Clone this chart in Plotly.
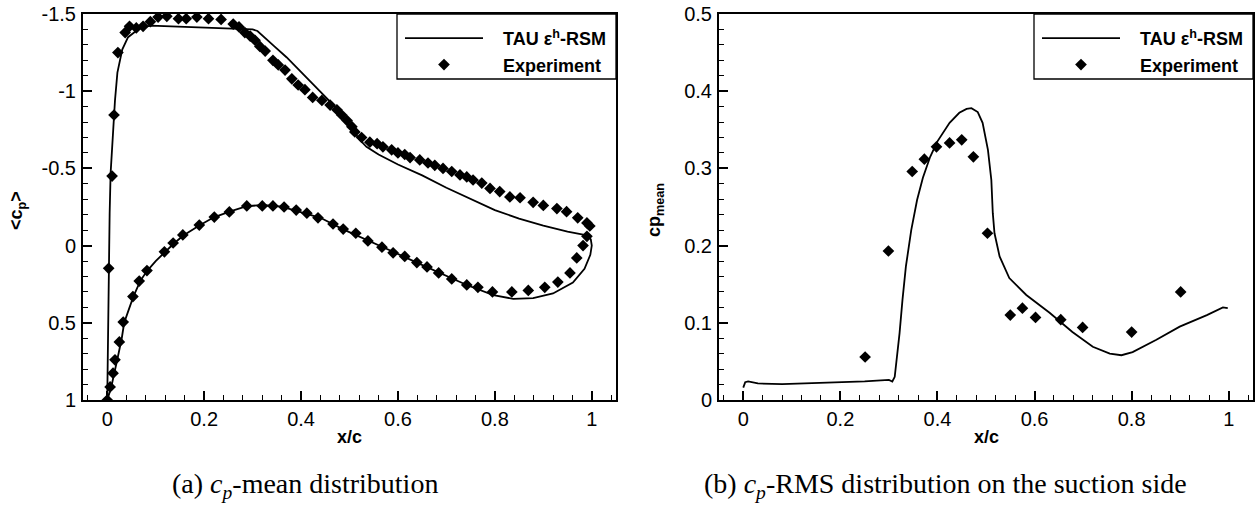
import plotly.graph_objects as go

# ---------------- data: left panel (cp-mean) ----------------
cfd_upper_x = [0.993, 0.95, 0.90, 0.85, 0.80, 0.75, 0.70, 0.65, 0.60, 0.56, 0.535, 0.52, 0.50, 0.47,
               0.435, 0.40, 0.37, 0.345, 0.325, 0.31, 0.30, 0.26, 0.20, 0.15, 0.09, 0.068, 0.043,
               0.031, 0.021, 0.016, 0.012, 0.007, 0.005, 0.003, 0.0]
cfd_upper_y = [-0.065, -0.09, -0.13, -0.175, -0.23, -0.30, -0.375, -0.455, -0.525, -0.59, -0.64, -0.69,
               -0.78, -0.90, -1.01, -1.12, -1.22, -1.29, -1.35, -1.39, -1.40, -1.405, -1.41, -1.415,
               -1.425, -1.41, -1.35, -1.27, -1.12, -0.94, -0.73, -0.47, -0.21, 0.20, 1.0]
cfd_lower_x = [0.008, 0.015, 0.022, 0.03, 0.035, 0.045, 0.054, 0.068, 0.082, 0.10, 0.12, 0.137, 0.157,
               0.19, 0.22, 0.254, 0.288, 0.32, 0.36, 0.40, 0.44, 0.487, 0.538, 0.59, 0.639, 0.687,
               0.742, 0.797, 0.838, 0.879, 0.92, 0.961, 0.985, 0.997, 1.0, 0.998, 0.993]
cfd_lower_y = [0.92, 0.83, 0.72, 0.60, 0.50, 0.41, 0.33, 0.23, 0.165, 0.10, 0.04, -0.012, -0.065,
               -0.13, -0.183, -0.222, -0.255, -0.263, -0.252, -0.215, -0.18, -0.105, -0.035, 0.04,
               0.11, 0.18, 0.255, 0.32, 0.345, 0.34, 0.31, 0.24, 0.15, 0.06, 0.0, -0.04, -0.06]

exp_upper_x = [0.003, 0.010, 0.014, 0.022, 0.037, 0.046, 0.06, 0.074, 0.089, 0.105, 0.123, 0.147, 0.163,
               0.185, 0.209, 0.235, 0.26, 0.272, 0.284, 0.295, 0.305, 0.315, 0.326, 0.342, 0.353,
               0.367, 0.381, 0.394, 0.408, 0.424, 0.443, 0.46, 0.474, 0.484, 0.495, 0.505, 0.511,
               0.525, 0.542, 0.557, 0.569, 0.587, 0.600, 0.614, 0.625, 0.645, 0.662, 0.676, 0.693,
               0.711, 0.728, 0.742, 0.755, 0.773, 0.79, 0.81, 0.831, 0.852, 0.879, 0.9, 0.928,
               0.948, 0.971, 0.99, 0.996]
exp_upper_y = [0.147, -0.45, -0.846, -1.25, -1.38, -1.42, -1.41, -1.42, -1.45, -1.48, -1.485, -1.47,
               -1.47, -1.48, -1.47, -1.465, -1.435, -1.416, -1.38, -1.357, -1.33, -1.29, -1.26, -1.20,
               -1.17, -1.137, -1.08, -1.04, -1.01, -0.96, -0.94, -0.91, -0.88, -0.846, -0.81, -0.77,
               -0.736, -0.70, -0.67, -0.66, -0.64, -0.62, -0.60, -0.59, -0.57, -0.555, -0.535, -0.52,
               -0.50, -0.48, -0.458, -0.445, -0.425, -0.405, -0.37, -0.35, -0.315, -0.31, -0.28, -0.26,
               -0.24, -0.22, -0.18, -0.147, -0.127]
exp_lower_x = [0.0, 0.006, 0.012, 0.016, 0.025, 0.033, 0.053, 0.066, 0.082, 0.118, 0.136, 0.156, 0.190,
               0.221, 0.252, 0.288, 0.32, 0.342, 0.365, 0.39, 0.412, 0.435, 0.466, 0.487, 0.513,
               0.538, 0.567, 0.59, 0.614, 0.639, 0.66, 0.684, 0.711, 0.742, 0.765, 0.795, 0.835,
               0.869, 0.903, 0.93, 0.955, 0.969, 0.982, 0.99]
exp_lower_y = [1.0, 0.915, 0.826, 0.74, 0.624, 0.495, 0.33, 0.23, 0.162, 0.04, -0.017, -0.069, -0.133,
               -0.185, -0.218, -0.257, -0.257, -0.257, -0.25, -0.23, -0.21, -0.18, -0.14, -0.107,
               -0.08, -0.03, 0.01, 0.047, 0.07, 0.11, 0.138, 0.177, 0.216, 0.255, 0.27, 0.30, 0.30,
               0.29, 0.27, 0.236, 0.177, 0.08, 0.0, -0.06]

# ---------------- data: right panel (cp-RMS, suction side) ----------------
rms_cfd_x = [0.0, 0.004, 0.01, 0.03, 0.08, 0.18, 0.25, 0.30, 0.307, 0.312, 0.316, 0.322, 0.328, 0.335,
             0.346, 0.358, 0.37, 0.385, 0.40, 0.425, 0.445, 0.46, 0.47, 0.483, 0.493, 0.504, 0.511,
             0.514, 0.5175, 0.528, 0.548, 0.583, 0.631, 0.678, 0.72, 0.755, 0.779, 0.802, 0.851,
             0.899, 0.955, 0.988, 0.998]
rms_cfd_y = [0.016, 0.023, 0.024, 0.0215, 0.0205, 0.022, 0.024, 0.026, 0.024, 0.030, 0.05, 0.087, 0.13,
             0.173, 0.22, 0.259, 0.288, 0.315, 0.335, 0.359, 0.372, 0.377, 0.378, 0.373, 0.359, 0.324,
             0.285, 0.242, 0.216, 0.186, 0.158, 0.136, 0.113, 0.088, 0.069, 0.060, 0.058, 0.062,
             0.078, 0.095, 0.110, 0.120, 0.119]
rms_exp_x = [0.251, 0.299, 0.348, 0.373, 0.398, 0.425, 0.45, 0.474, 0.503, 0.55, 0.575, 0.602, 0.654,
             0.699, 0.80, 0.901]
rms_exp_y = [0.0557, 0.193, 0.296, 0.312, 0.328, 0.333, 0.337, 0.315, 0.216, 0.110, 0.119, 0.107, 0.104,
             0.094, 0.088, 0.140]

# ---------------- tick labels ----------------
x_tickvals = [0, 0.2, 0.4, 0.6, 0.8, 1]
x_ticktext = ["0", "0.2", "0.4", "0.6", "0.8", "1"]
left_y_tickvals = [-1.5, -1, -0.5, 0, 0.5, 1]
left_y_ticktext = ["-1.5", "-1", "-0.5", "0", "0.5", "1"]
right_y_tickvals = [0, 0.1, 0.2, 0.3, 0.4, 0.5]
right_y_ticktext = ["0", "0.1", "0.2", "0.3", "0.4", "0.5"]

PAD = "\u00a0\u00a0\u00a0"
cfd_name = PAD + "<b>TAU ε<sup>h</sup>-RSM</b>"
exp_name = PAD + "<b>Experiment</b>"

W, H = 1258, 508
SANS = "Liberation Sans"
SERIF = "Liberation Serif"

fig = go.Figure()
line_style = dict(color="black", width=1.8)
marker_style = dict(symbol="diamond", size=9, color="black")

fig.add_trace(go.Scatter(x=cfd_upper_x + cfd_lower_x, y=cfd_upper_y + cfd_lower_y, mode="lines",
                         line=line_style, name=cfd_name, xaxis="x", yaxis="y", legend="legend"))
fig.add_trace(go.Scatter(x=exp_upper_x + exp_lower_x, y=exp_upper_y + exp_lower_y, mode="markers",
                         marker=marker_style, name=exp_name, xaxis="x", yaxis="y", legend="legend"))
fig.add_trace(go.Scatter(x=rms_cfd_x, y=rms_cfd_y, mode="lines", line=line_style, name=cfd_name,
                         xaxis="x2", yaxis="y2", legend="legend2"))
fig.add_trace(go.Scatter(x=rms_exp_x, y=rms_exp_y, mode="markers", marker=marker_style, name=exp_name,
                         xaxis="x2", yaxis="y2", legend="legend2"))

def px_x(p):
    return p / W

def px_y(p):
    return 1 - p / H

ydom = [px_y(400), px_y(14)]
tickfont = dict(family=SANS, size=20, color="black")
minor_common = dict(ticks="inside", ticklen=5, tickcolor="black", tickwidth=1.2, showgrid=False)

def xaxis_cfg(domain, anchor):
    return dict(domain=domain, anchor=anchor, range=[-0.05, 1.05], tickvals=x_tickvals,
                ticktext=x_ticktext, ticks="inside", ticklen=9, tickwidth=1.5, tickcolor="black",
                showline=True, linewidth=2, linecolor="black", mirror=True, showgrid=False,
                zeroline=False, tickfont=tickfont, ticklabelstandoff=0, automargin=False,
                minor=dict(tick0=0, dtick=0.04, **minor_common))

def yaxis_cfg(domain, anchor, rng, tv, tt, mdt):
    return dict(domain=domain, anchor=anchor, range=rng, tickvals=tv, ticktext=tt, ticks="inside",
                ticklen=9, tickwidth=1.5, tickcolor="black", showline=True, linewidth=2,
                linecolor="black", mirror=True, showgrid=False, zeroline=False, tickfont=tickfont,
                ticklabelstandoff=1, automargin=False, minor=dict(tick0=0, dtick=mdt, **minor_common))

legfont = dict(family=SANS, size=18, color="black")

def ann(text, x, y, size, family=SANS, angle=0):
    return dict(text=text, x=px_x(x), y=px_y(y), xref="paper", yref="paper", xanchor="center",
                yanchor="middle", textangle=angle, showarrow=False,
                font=dict(family=family, size=size, color="black"))

annotations = [
    ann("<b>&lt;c<sub>p</sub>&gt;</b>", 18, 211, 18, angle=-90),
    ann("<b>x/c</b>", 349.5, 437, 18),
    ann("<b>cp<sub>mean</sub></b>", 656, 210, 18, angle=-90),
    ann("<b>x/c</b>", 986, 437, 18),
    ann("(a) <i>c<sub>p</sub></i>-mean distribution", 305, 485, 28, family=SERIF),
    ann("(b) <i>c<sub>p</sub></i>-RMS distribution on the suction side", 945, 485, 28, family=SERIF),
]

shapes = [
    dict(type="rect", xref="x domain", yref="y domain", x0=(397 - 83) / (616 - 83), x1=1,
         y0=1 - (79 - 14) / 386, y1=1, line=dict(color="black", width=1.3), fillcolor="white",
         layer="below"),
    dict(type="rect", xref="x2 domain", yref="y2 domain", x0=(1034 - 719) / (1253 - 719), x1=1,
         y0=1 - (79 - 14) / 386, y1=1, line=dict(color="black", width=1.3), fillcolor="white",
         layer="below"),
]

fig.update_layout(
    template="none",
    width=W, height=H, margin=dict(l=0, r=0, t=0, b=0, pad=0, autoexpand=False), autosize=False,
    paper_bgcolor="white", plot_bgcolor="rgba(0,0,0,0)",
    xaxis=xaxis_cfg([px_x(83), px_x(616)], "y"),
    yaxis=yaxis_cfg(ydom, "x", [1, -1.5], left_y_tickvals, left_y_ticktext, 0.1),
    xaxis2=xaxis_cfg([px_x(719), px_x(1253)], "y2"),
    yaxis2=yaxis_cfg(ydom, "x2", [0, 0.5], right_y_tickvals, right_y_ticktext, 0.02),
    legend=dict(x=px_x(400), y=px_y(20), xanchor="left", yanchor="top", bgcolor="rgba(0,0,0,0)",
                borderwidth=0, font=legfont, itemwidth=78, tracegroupgap=0),
    legend2=dict(x=px_x(1037), y=px_y(20), xanchor="left", yanchor="top", bgcolor="rgba(0,0,0,0)",
                 borderwidth=0, font=legfont, itemwidth=78, tracegroupgap=0),
    annotations=annotations, shapes=shapes, showlegend=True,
)

fig.write_html("out.html")
